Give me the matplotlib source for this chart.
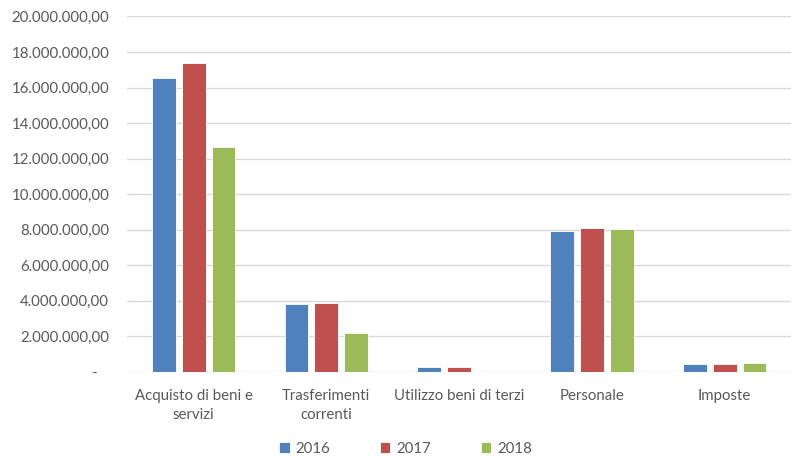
import matplotlib.pyplot as plt
import numpy as np
from matplotlib.ticker import FuncFormatter

categories = ["Acquisto di beni e\nservizi", "Trasferimenti\ncorrenti",
              "Utilizzo beni di terzi", "Personale", "Imposte"]
years = ["2016", "2017", "2018"]
v2016 = [16550000, 3800000, 260000, 7940000, 470000]
v2017 = [17370000, 3890000, 260000, 8100000, 470000]
v2018 = [12660000, 2200000, 0, 8040000, 510000]
colors = ["#4F81BD", "#C0504D", "#9BBB59"]

plt.rcParams['font.family'] = ['Lato', 'DejaVu Sans']

fig = plt.figure(figsize=(7.95, 4.58), dpi=100)
ax = fig.add_axes([0.16, 0.188, 0.835, 0.776])

x = np.arange(len(categories))
w = 0.18
step = 0.225
for i, (vals, c, yr) in enumerate(zip([v2016, v2017, v2018], colors, years)):
    ax.bar(x + (i - 1) * step, vals, width=w, color=c, label=yr,
           edgecolor="white", linewidth=0.6, zorder=3)


def ita(v, pos):
    if abs(v) < 1:
        return "-   "
    s = "{:,.2f}".format(v)
    return s.replace(",", "X").replace(".", ",").replace("X", ".")


ax.set_ylim(0, 20000000)
ax.set_yticks(np.arange(0, 20000001, 2000000))
ax.yaxis.set_major_formatter(FuncFormatter(ita))
ax.set_xlim(-0.5, len(categories) - 0.5)
ax.set_xticks(x)
ax.set_xticklabels(categories, linespacing=1.45)
ax.grid(axis="y", color="#D9D9D9", linewidth=1, zorder=0)
for s in ax.spines.values():
    s.set_visible(False)
ax.tick_params(axis="both", length=0, colors="#595959", labelsize=10.8)
ax.tick_params(axis="y", pad=13)
ax.tick_params(axis="x", pad=12)

fig.legend(loc="lower center", bbox_to_anchor=(0.51, -0.025), ncol=3,
           frameon=False, handlelength=0.7, handleheight=0.7,
           columnspacing=3.3, handletextpad=0.4, labelcolor="#595959",
           fontsize=10.8)

fig.savefig("out.png", dpi=100)
